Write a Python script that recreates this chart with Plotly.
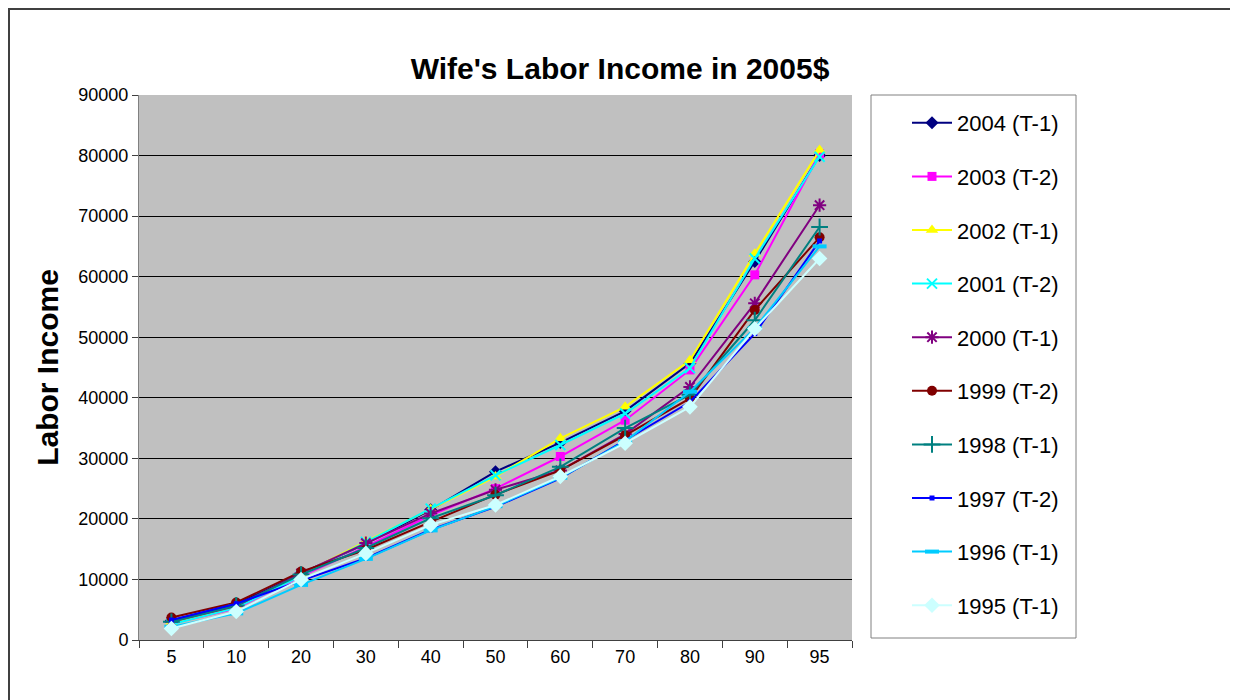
import plotly.graph_objects as go

categories = ["5", "10", "20", "30", "40", "50", "60", "70", "80", "90", "95"]

s2004 = [3200, 5900, 11000, 15900, 21500, 27800, 32600, 37800, 45700, 62500, 80000]
s2003 = [2700, 5200, 10500, 15400, 20600, 25000, 30300, 36300, 44600, 60300, 80300]
s2002 = [2900, 5500, 10800, 16300, 21600, 27000, 33300, 38500, 46200, 63800, 80900]
s2001 = [2600, 5300, 10600, 16200, 21700, 27200, 32200, 37400, 44900, 63000, 79800]
s2000 = [3000, 5600, 11000, 16000, 20900, 24800, 28000, 34000, 41800, 55600, 71800]
s1999 = [3700, 6200, 11300, 14900, 19500, 24000, 28000, 33800, 39900, 54500, 66500]
s1998 = [3000, 5700, 10800, 15200, 20100, 23900, 28600, 35000, 40500, 52800, 68200]
s1997 = [3300, 6000, 9800, 13500, 18200, 22000, 26700, 33000, 39300, 50600, 65900]
s1996 = [2200, 4400, 9100, 13400, 18100, 22100, 26800, 32800, 41000, 51500, 65000]
s1995 = [1900, 4700, 10000, 14300, 19000, 22300, 27000, 32500, 38500, 51400, 63000]

series = [
    ("2004 (T-1)", s2004, "#000080", "diamond", 10),
    ("2003 (T-2)", s2003, "#FF00FF", "square", 9),
    ("2002 (T-1)", s2002, "#FFFF00", "triangle-up", 11),
    ("2001 (T-2)", s2001, "#00FFFF", "x-thin-open", 10),
    ("2000 (T-1)", s2000, "#800080", "asterisk-open", 11),
    ("1999 (T-2)", s1999, "#800000", "circle", 10),
    ("1998 (T-1)", s1998, "#008080", "cross-thin-open", 12),
    ("1997 (T-2)", s1997, "#0000FF", "square", 5),
    ("1996 (T-1)", s1996, "#00CCFF", "line-ew-open", 10),
    ("1995 (T-1)", s1995, "#CCFFFF", "diamond", 12),
]

FONT = "Liberation Sans, Arial, sans-serif"

fig = go.Figure()
for name, vals, color, sym, size in series:
    mk = dict(symbol=sym, size=size, color=color)
    if sym.endswith("-open"):
        mk["line"] = dict(color=color, width=2 if sym != "line-ew-open" else 4)
    fig.add_trace(go.Scatter(
        x=categories, y=vals, name=name, mode="lines+markers",
        line=dict(color=color, width=2), marker=mk,
        legendgroup=name,
    ))

OFF = 8  # page body margin
W, H = 1238 - OFF, 700 - OFF
L, R, T, B = 139 - OFF, 852 - OFF, 95 - OFF, 640 - OFF
pw, ph = R - L, B - T

def px(xpage):
    return (xpage - OFF - L) / pw

def py(ypage):
    return (B - (ypage - OFF)) / ph

fig.update_layout(
    width=W, height=H,
    margin=dict(l=L, r=W - R, t=T, b=H - B, autoexpand=False),
    paper_bgcolor="white", plot_bgcolor="#C0C0C0",
    title=dict(text="<b>Wife's Labor Income in 2005$</b>", xref="paper", x=px(620),
               xanchor="center", yref="container", y=1 - (68 - OFF) / H, yanchor="middle",
               font=dict(family=FONT, size=30, color="black")),
    showlegend=True,
    legend=dict(x=px(907), xanchor="left", y=py(102), yanchor="top",
                bgcolor="rgba(0,0,0,0)", borderwidth=0, maxheight=620,
                font=dict(family=FONT, size=22, color="black"),
                tracegroupgap=22, itemwidth=40),
    xaxis=dict(type="category", tickson="boundaries", ticks="outside", ticklen=7,
               tickcolor="#404040", showline=True, linecolor="#404040", linewidth=1,
               showgrid=False, tickfont=dict(family=FONT, size=18, color="black"),
               range=[-0.5, 10.5]),
    yaxis=dict(range=[0, 90000], dtick=10000, tickformat="d", ticks="outside", ticklen=6,
               tickcolor="#404040", showline=True, linecolor="#808080", linewidth=1,
               showgrid=True, gridcolor="black", gridwidth=1, zeroline=False,
               tickfont=dict(family=FONT, size=18, color="black"),
               title=dict(text="<b>Labor Income</b>", standoff=10,
                          font=dict(family=FONT, size=30, color="black"))),
    shapes=[
        dict(type="rect", xref="paper", yref="paper", x0=px(9), x1=px(1260), y0=py(9), y1=py(720),
             line=dict(color="#404040", width=2), fillcolor="rgba(0,0,0,0)", layer="below"),
        dict(type="rect", xref="paper", yref="paper", x0=px(871), x1=px(1076), y0=py(95), y1=py(638),
             line=dict(color="#808080", width=1), fillcolor="white", layer="below"),
    ],
)

fig.write_html("out.html")
